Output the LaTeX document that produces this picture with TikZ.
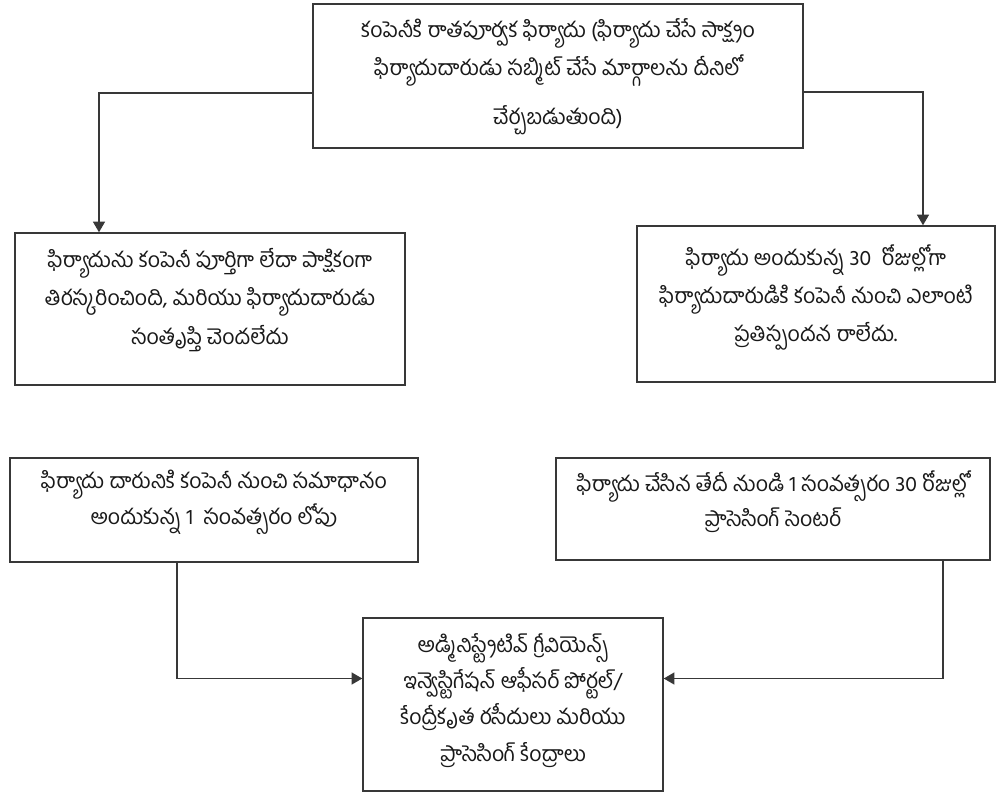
\documentclass[tikz,border=0pt]{standalone}
\usepackage{fontspec}
\newfontfamily\tefont[Script=Telugu]{Hind Guntur}
\usetikzlibrary{arrows.meta,calc}
\begin{document}
\begin{tikzpicture}[x=0.75pt,y=-0.75pt,
  box/.style={draw=black!78,line width=1.1pt,rectangle,inner sep=0pt},
  txt/.style={anchor=north,inner sep=0pt,align=center,font={\tefont\fontsize{16}{28.7}\selectfont},text=black!90},
  conn/.style={draw=black!78,line width=1.1pt},
  arr/.style={conn,-{Triangle[width=9pt,length=8pt]}}]
\useasboundingbox[fill=white] (0,0) rectangle (1001,793);
% boxes
\node[box,minimum width=490*0.75pt,minimum height=144*0.75pt] (top) at (558,76) {};
\node[box,minimum width=390*0.75pt,minimum height=152*0.75pt] (lmid) at (210,309) {};
\node[box,minimum width=358*0.75pt,minimum height=156*0.75pt] (rmid) at (816,304) {};
\node[box,minimum width=408*0.75pt,minimum height=104*0.75pt] (llow) at (214,510) {};
\node[box,minimum width=434*0.75pt,minimum height=102*0.75pt] (rlow) at (773,509) {};
\node[box,minimum width=300*0.75pt,minimum height=173*0.75pt] (bot) at (513,704.5) {};
% texts
\node[txt] (toptxt) at ($(top.north)+(0,15)$) {కంపెనీకి రాతపూర్వక ఫిర్యాదు (ఫిర్యాదు చేసే సాక్ష్యం\\ఫిర్యాదుదారుడు సబ్మిట్ చేసే మార్గాలను దీనిలో\\[8pt]చేర్చబడుతుంది)};
\node[txt] (lmidtxt) at ($(lmid.north)+(0,16)$) {ఫిర్యాదును కంపెనీ పూర్తిగా లేదా పాక్షికంగా\\తిరస్కరించింది, మరియు ఫిర్యాదుదారుడు\\సంతృప్తి చెందలేదు};
\node[txt] (rmidtxt) at ($(rmid.north)+(0,19)$) {ఫిర్యాదు అందుకున్న 30~ రోజుల్లోగా\\ఫిర్యాదుదారుడికి కంపెనీ నుంచి ఎలాంటి\\ప్రతిస్పందన రాలేదు.};
\node[txt,font={\tefont\fontsize{16}{26.5}\selectfont}] (llowtxt) at ($(llow.north)+(0,13)$) {ఫిర్యాదు దారునికి కంపెనీ నుంచి సమాధానం\\అందుకున్న 1~ సంవత్సరం లోపు};
\node[txt,font={\tefont\fontsize{16}{26.5}\selectfont}] (rlowtxt) at ($(rlow.north)+(0,13)$) {ఫిర్యాదు చేసిన తేదీ నుండి 1 సంవత్సరం 30 రోజుల్లో\\ప్రాసెసింగ్ సెంటర్};
\node[txt,font={\tefont\fontsize{16}{27.2}\selectfont}] (bottxt) at ($(bot.north)+(0,16)$) {అడ్మినిస్ట్రేటివ్ గ్రీవియెన్స్\\ఇన్వెస్టిగేషన్ ఆఫీసర్ పోర్టల్/\\కేంద్రీకృత రసీదులు మరియు\\ప్రాసెసింగ్ కేంద్రాలు};
% connectors
\draw[arr] ($(top.west)+(0,17)$) -| ($(lmid.north)+(-111,0)$);
\draw[arr] ($(top.east)+(0,16)$) -| ($(rmid.north)+(107,0)$);
\draw[conn] ($(lmid.south)+(-61,0)$) -- ($(lmid.south)+(-61,0)$ |- llow.north);
\draw[conn] ($(rmid.south)+(83,0)$) -- ($(rmid.south)+(83,0)$ |- rlow.north);
\draw[arr] ($(llow.south)+(-37,0)$) |- ($(bot.west)+(0,-26)$);
\draw[arr] ($(rlow.south)+(170,0)$) |- ($(bot.east)+(0,-26)$);
\end{tikzpicture}
\end{document}
